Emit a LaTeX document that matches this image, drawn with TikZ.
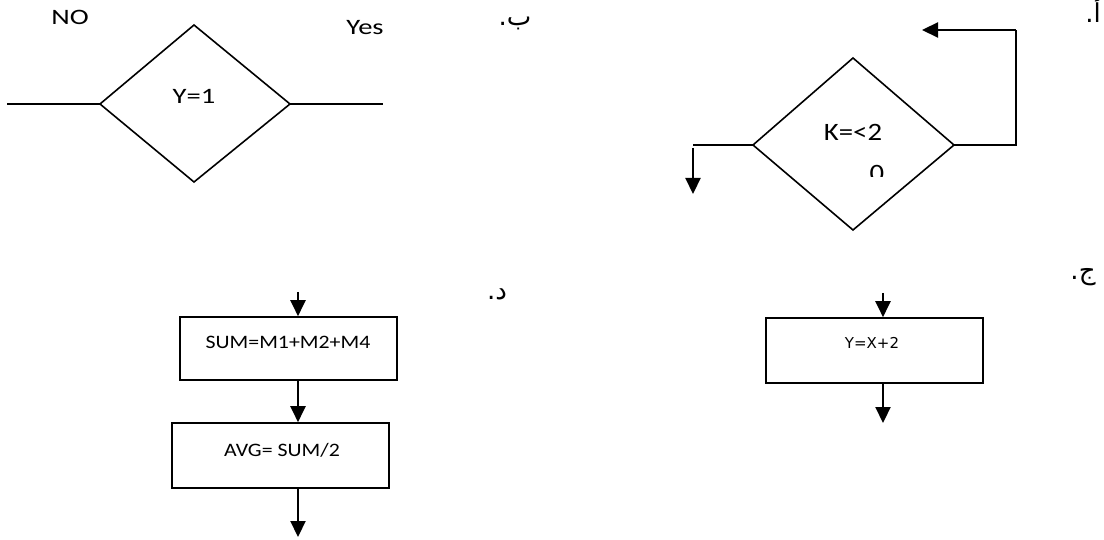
\documentclass[tikz,border=0pt]{standalone}
\usepackage{fontspec}
\setmainfont{Carlito}
\newfontfamily\wideA[FakeStretch=1.3]{Carlito}
\newfontfamily\wideB[FakeStretch=1.15]{Carlito}
\newfontfamily\arabicfont[Script=Arabic]{DejaVu Sans}
\newfontfamily\tahfont{DejaVu Sans}
\TeXXeTstate=1
\usetikzlibrary{arrows.meta,shapes.geometric}
\tikzset{
  ln/.style={line width=1.6pt},
  arr/.style={line width=2.2pt,-{Triangle[length=16pt,width=15pt]}},
  box/.style={draw,ln,inner sep=0pt},
  lblA/.style={inner sep=0pt,font=\wideA\fontsize{22}{26}\selectfont},
  lblK/.style={inner sep=0pt,font=\wideB\fontsize{25}{30}\selectfont},
  lblS/.style={inner sep=0pt,font=\wideB\fontsize{19}{23}\selectfont},
  ar/.style={inner sep=0pt,font=\arabicfont\fontsize{26}{30}\selectfont}
}
\begin{document}
\begin{tikzpicture}[x=1pt,y=-1pt]
\useasboundingbox (0,0) rectangle (1104,540);
% ---- A ----
\coordinate (aT) at (853,58);
\coordinate (aB) at (853,230);
\coordinate (aL) at (753,145);
\coordinate (aR) at (954,145);
\draw[ln] (aT) -- (aR) -- (aB) -- (aL) -- cycle;
\node[lblK] (kt) at (853,132) {K=<2};
\begin{scope}
\clip (860,160) rectangle (895,177);
\node[lblK] (kz) at (877,173) {0};
\end{scope}
\coordinate (a1) at (1016,145);
\coordinate (a2) at (1016,30);
\coordinate (a3) at (922,30);
\draw[ln] (aR) -- (a1) -- (a2);
\draw[arr] (a2) -- (a3);
\coordinate (a4) at (693,145);
\coordinate (a5) at (693,148);
\coordinate (a6) at (693,194);
\draw[ln] (aL) -- (a4);
\draw[arr] (a5) -- (a6);
\node[ar] (la) at (1093,10) {\beginR أ.\endR};
% ---- B ----
\coordinate (bT) at (194,25);
\coordinate (bB) at (194,182);
\coordinate (bL) at (100,104);
\coordinate (bR) at (290,104);
\draw[ln] (bT) -- (bR) -- (bB) -- (bL) -- cycle;
\node[lblA] (yt) at (194,96) {Y=1};
\coordinate (b1) at (7,104);
\coordinate (b2) at (383,104);
\draw[ln] (bL) -- (b1);
\draw[ln] (bR) -- (b2);
\node[lblA] (no) at (70,17) {NO};
\node[lblA] (yes) at (365,28) {Yes};
\node[ar] (lb) at (515,23) {\beginR ب.\endR};
% ---- C ----
\node[box,minimum width=217pt,minimum height=65pt] (c) at (874.5,350.5) {};
\node[inner sep=0pt,font=\tahfont\fontsize{15}{18}\selectfont] (ct) at (872,343) {Y=X+2};
\coordinate (c0) at (883,293);
\coordinate (c2) at (883,423);
\draw[arr] (c0) -- (c.north -| c0);
\draw[arr] (c.south -| c0) -- (c2);
\node[ar] (lc) at (1083,277) {\beginR ج.\endR};
% ---- D ----
\node[box,minimum width=217pt,minimum height=63pt] (d1) at (288.5,348.5) {};
\node[lblS] (d1t) at (288,342) {SUM=M1+M2+M4};
\node[box,minimum width=217pt,minimum height=65pt] (d2) at (280.5,455.5) {};
\node[lblS] (d2t) at (282,450) {AVG= SUM/2};
\coordinate (d0) at (298,292);
\coordinate (d3) at (298,537);
\draw[arr] (d0) -- (d1.north -| d0);
\draw[arr] (d1.south -| d0) -- (d2.north -| d0);
\draw[arr] (d2.south -| d0) -- (d3);
\node[ar] (ld) at (497,294) {\beginR د.\endR};
\end{tikzpicture}
\end{document}
